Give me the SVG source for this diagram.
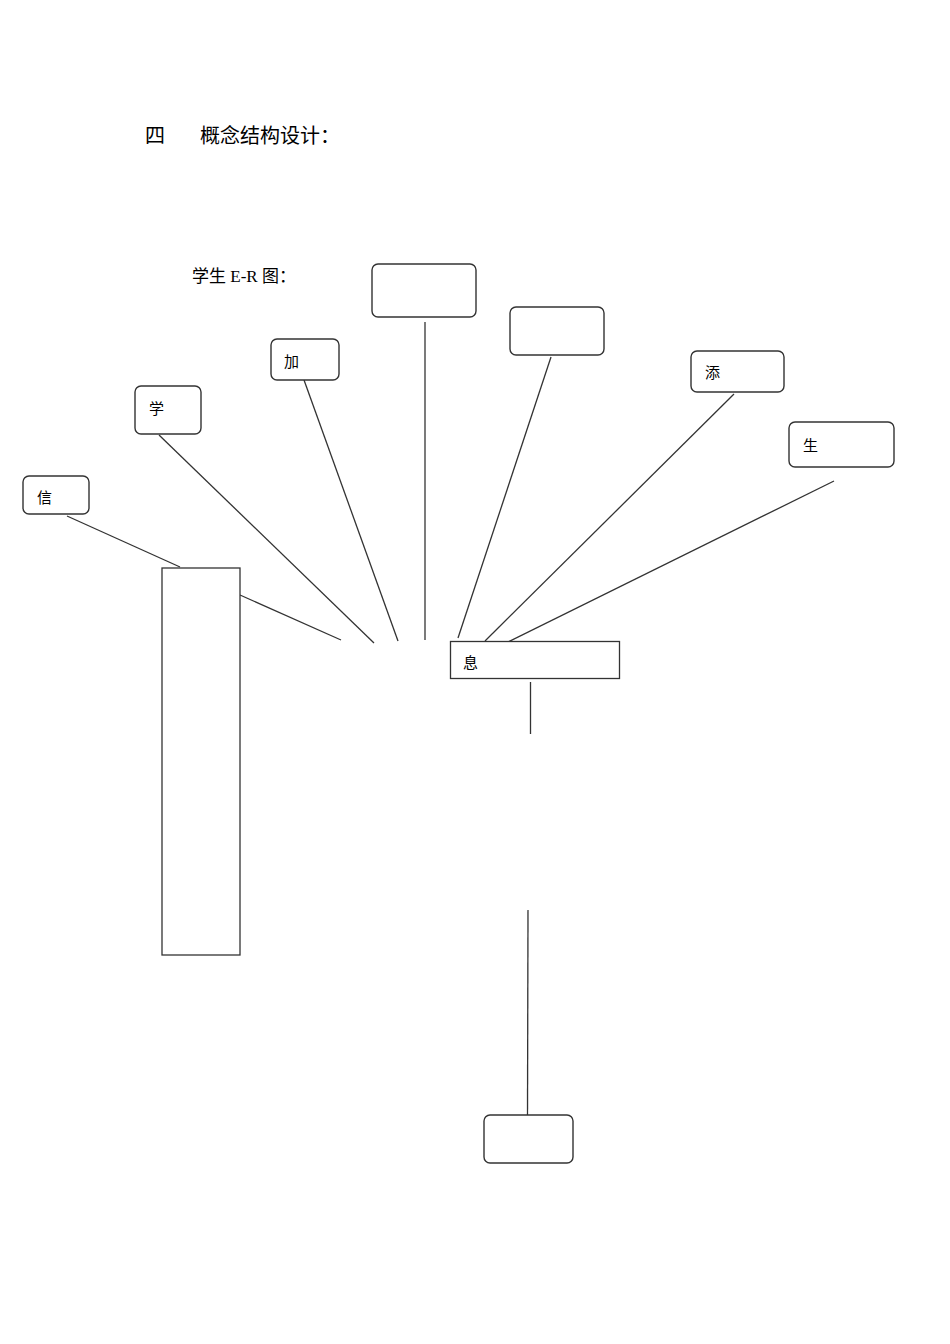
<svg xmlns="http://www.w3.org/2000/svg" width="950" height="1344" viewBox="0 0 950 1344">
<style>
.bg{fill:#fff}
.rb{fill:#fff;stroke:#333;stroke-width:1.4}
.sq{fill:#fff;stroke:#333;stroke-width:1.3}
.ln{stroke:#333;stroke-width:1.3;fill:none}
.t{font-family:"Liberation Serif","Noto Sans CJK SC",serif;fill:#000}
.lbl{font-size:15px}
</style>
<rect class="bg" x="0" y="0" width="950" height="1344"/>
<text class="t" x="145" y="143" font-size="20">四</text>
<text class="t" x="200" y="143" font-size="20">概念结构设计：</text>
<text class="t" x="192" y="282" font-size="17">学生 E-R 图：</text>
<g id="connectors">
<line class="ln" x1="67" y1="516" x2="180" y2="567"/>
<line class="ln" x1="240" y1="595" x2="341" y2="640"/>
<line class="ln" x1="159" y1="435" x2="374" y2="643"/>
<line class="ln" x1="304" y1="380" x2="398" y2="641"/>
<line class="ln" x1="425" y1="322" x2="425" y2="640"/>
<line class="ln" x1="551" y1="357" x2="458" y2="638"/>
<line class="ln" x1="734" y1="394" x2="485" y2="641"/>
<line class="ln" x1="834" y1="481" x2="504" y2="644"/>
<line class="ln" x1="530.5" y1="682" x2="530.5" y2="734"/>
<line class="ln" x1="528" y1="910" x2="527.5" y2="1115"/>
</g>
<g id="node-top"><rect class="rb" x="372" y="264" width="104" height="53" rx="6"/></g>
<g id="node-box2"><rect class="rb" x="510" y="307" width="94" height="48" rx="6"/></g>
<g id="node-tian"><rect class="rb" x="691" y="351" width="93" height="41" rx="6"/><text class="t lbl" x="705" y="378">添</text></g>
<g id="node-sheng"><rect class="rb" x="789" y="422" width="105" height="45" rx="6"/><text class="t lbl" x="803" y="451">生</text></g>
<g id="node-jia"><rect class="rb" x="271" y="339" width="68" height="41" rx="6"/><text class="t lbl" x="284" y="367">加</text></g>
<g id="node-xue"><rect class="rb" x="135" y="386" width="66" height="48" rx="6"/><text class="t lbl" x="149" y="414">学</text></g>
<g id="node-xin"><rect class="rb" x="23" y="476" width="66" height="38" rx="6"/><text class="t lbl" x="37" y="503">信</text></g>
<g id="node-tall"><rect class="sq" x="162" y="568" width="78" height="387"/></g>
<g id="node-xi"><rect class="sq" x="450.5" y="641.5" width="169" height="37"/><text class="t lbl" x="463" y="668">息</text></g>
<g id="node-bottom"><rect class="rb" x="484" y="1115" width="89" height="48" rx="6"/></g>
</svg>
